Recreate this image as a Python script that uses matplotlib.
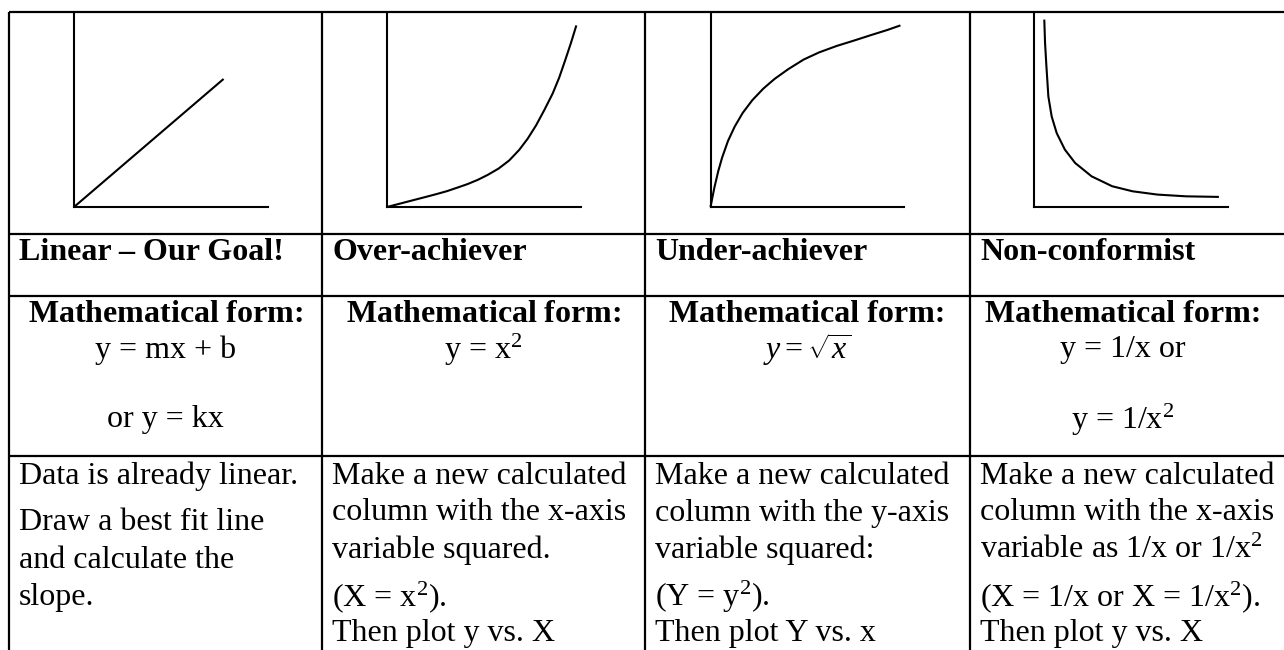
import matplotlib
matplotlib.use('Agg')
import matplotlib.pyplot as plt

plt.rcParams['font.family'] = ['Liberation Serif', 'DejaVu Serif']
plt.rcParams['mathtext.fontset'] = 'custom'
plt.rcParams['mathtext.rm'] = 'Liberation Serif'
plt.rcParams['mathtext.it'] = 'Liberation Serif:italic'
plt.rcParams['mathtext.bf'] = 'Liberation Serif:bold'
plt.rcParams['mathtext.default'] = 'regular'

W, H = 1284, 650

# sketch curves (fractions of each little axis)
lin_x = [0, 0.771]
lin_y = [0, 0.66]
over_x = [0, 0.073, 0.146, 0.2, 0.253, 0.31, 0.36, 0.415, 0.468, 0.52, 0.575,
          0.63, 0.682, 0.725, 0.768, 0.81, 0.854, 0.888, 0.918, 0.948, 0.976]
over_y = [0, 0.019, 0.038, 0.052, 0.066, 0.082, 0.099, 0.118, 0.140, 0.166, 0.198,
          0.240, 0.295, 0.352, 0.420, 0.498, 0.585, 0.668, 0.755, 0.845, 0.936]
under_x = [0, 0.02, 0.04, 0.06, 0.09, 0.125, 0.166, 0.215, 0.272, 0.33, 0.4,
           0.48, 0.56, 0.65, 0.74, 0.83, 0.91, 0.979]
under_y = [0, 0.1, 0.185, 0.255, 0.34, 0.415, 0.485, 0.55, 0.61, 0.66, 0.71,
           0.76, 0.797, 0.83, 0.858, 0.887, 0.912, 0.936]
non_x = [0.053, 0.057, 0.064, 0.074, 0.091, 0.117, 0.159, 0.212, 0.297, 0.403,
         0.508, 0.636, 0.784, 0.953]
non_y = [0.966, 0.845, 0.725, 0.570, 0.467, 0.381, 0.296, 0.227, 0.158, 0.107,
         0.081, 0.064, 0.055, 0.052]

titles = ['Linear \u2013 Our Goal!', 'Over-achiever', 'Under-achiever', 'Non-conformist']
# first two columns have a plain colon, last two a bold one
form_heads = [r'$\mathbf{Mathematical\ form}$:', r'$\mathbf{Mathematical\ form}$:',
              'Mathematical form:', 'Mathematical form:']
forms = [
    ['y = mx + b', 'or y = kx'],
    ['y = x$^2$', ''],
    [r'$\mathit{y} = \sqrt{\mathit{x}}$', ''],
    ['y = 1/x or', 'y = 1/x$^2$'],
]
descr_top = [
    ['Data is already linear.'],
    ['Make a new calculated', 'column with the x-axis', 'variable squared.'],
    ['Make a new calculated', 'column with the y-axis', 'variable squared:'],
    ['Make a new calculated', 'column with the x-axis', 'variable as 1/x or 1/x$^2$'],
]
descr_bot = [
    ['Draw a best fit line', 'and calculate the', 'slope.'],
    ['(X = x$^2$).', 'Then plot y vs. X'],
    ['(Y = y$^2$).', 'Then plot Y vs. x'],
    ['(X = 1/x or X = 1/x$^2$).', 'Then plot y vs. X'],
]

fig = plt.figure(figsize=(W / 100, H / 100), dpi=100)
ax = fig.add_axes([0, 0, 1, 1])
ax.set_xlim(0, W)
ax.set_ylim(H, 0)
ax.axis('off')

cols = [9, 322, 645, 970, W + 5]
rows = [12, 234, 296, 456]
lw = 1.6
for y in rows:
    ax.plot([cols[0], W], [y, y], color='black', lw=lw, solid_capstyle='butt')
for x in cols[:-1]:
    ax.plot([x, x], [rows[0], H], color='black', lw=lw, solid_capstyle='butt')

# little sketch graphs
plot_left = [74, 387, 710.5, 1034]
plot_size = 194
plot_top, plot_bot = 13, 207
curves = [(lin_x, lin_y), (over_x, over_y), (under_x, under_y), (non_x, non_y)]
for px, (cx, cy) in zip(plot_left, curves):
    a = fig.add_axes([px / W, 1 - plot_bot / H, plot_size / W, (plot_bot - plot_top) / H])
    a.set_xlim(0, 1)
    a.set_ylim(0, 1)
    a.patch.set_alpha(0)
    for s in ['top', 'right']:
        a.spines[s].set_visible(False)
    for s in ['left', 'bottom']:
        a.spines[s].set_linewidth(1.5)
    a.set_xticks([])
    a.set_yticks([])
    a.plot(cx, cy, color='black', lw=1.5, clip_on=False,
           solid_capstyle='butt', solid_joinstyle='round')

fs = 23
pad = 10
for i in range(4):
    left = cols[i] + pad
    right = cols[i + 1] if i < 3 else 1276
    mid = (cols[i] + right) / 2
    ax.text(left, 252, titles[i], fontsize=fs, fontweight='bold', ha='left', va='center')
    ax.text(mid, 315, form_heads[i], fontsize=fs, fontweight='bold', ha='center', va='center')
    f1, f2 = forms[i]
    ax.text(mid, 350, f1, fontsize=fs, ha='center', va='center')
    if f2:
        ax.text(mid, 420, f2, fontsize=fs, ha='center', va='center')
    y = 476
    for line in descr_top[i]:
        ax.text(left, y, line, fontsize=fs, ha='left', va='center')
        y += 37
    y += 10
    for line in descr_bot[i]:
        ax.text(left, y, line, fontsize=fs, ha='left', va='center')
        y += 37

fig.savefig('out.png', dpi=100, facecolor='white')
